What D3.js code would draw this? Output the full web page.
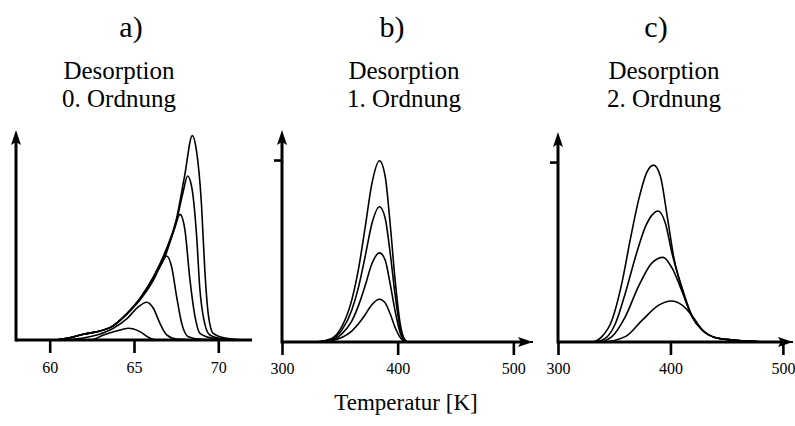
<!DOCTYPE html>
<html>
<head>
<meta charset="utf-8">
<script src="https://cdn.jsdelivr.net/npm/d3@7"></script>
<style>
  body { margin: 0; background: #fff; }
  svg { display: block; }
</style>
</head>
<body>
<svg id="chart" width="795" height="426"></svg>
<script>
var serif = "'Liberation Serif', 'DejaVu Serif', serif";

// panel a) - desorption 0. order, temperature [K] vs. rate (arb. units 0..10)
var ticksA = [60, 65, 70];
var curveA1 = [[58,0],[62.4,0],[63.2,0.24],[64.0,0.44],[64.66,0.56],[65.35,0.4],[65.85,0.13],[66.35,0],[72,0]];
var curveA2 = [[58,0],[60.5,0],[62.5,0.18],[63.77,0.56],[64.6,1.03],[65.2,1.54],[65.75,1.8],[66.15,1.51],[66.54,0.79],[66.94,0.24],[67.5,0.05],[69,0],[72,0]];
var curveA3 = [[58,0],[60.2,0],[62.0,0.27],[63.6,0.6],[64.6,1.25],[65.35,1.9],[66.15,2.85],[66.6,3.6],[66.94,4.0],[67.23,3.49],[67.53,2.06],[67.83,0.79],[68.22,0.16],[69,0.03],[70,0],[72,0]];
var curveA4 = [[58,0],[60.2,0],[62.0,0.27],[63.6,0.6],[64.6,1.27],[65.35,1.95],[66.15,2.95],[66.9,4.1],[67.4,5.3],[67.73,5.98],[68.02,5.24],[68.32,2.86],[68.62,1.11],[68.91,0.32],[69.7,0.08],[71,0],[72,0]];
var curveA5 = [[58,0],[60.2,0],[62.0,0.27],[63.6,0.6],[64.6,1.27],[65.35,1.97],[66.15,2.97],[66.9,4.25],[67.5,5.6],[67.9,7.0],[68.18,7.81],[68.42,7.3],[68.72,4.9],[68.9,2.5],[69.15,0.95],[69.5,0.24],[70.3,0.05],[71.5,0],[72,0]];
var curveA6 = [[58,0],[60.2,0],[62.0,0.27],[63.6,0.6],[64.6,1.27],[65.35,1.98],[66.15,3.0],[66.9,4.29],[67.5,5.7],[68.0,7.8],[68.46,9.73],[68.7,9.05],[69.0,6.5],[69.2,3.33],[69.4,1.27],[69.7,0.32],[70.5,0.08],[71.7,0],[72,0]];

// panel b) - desorption 1. order
var ticksB = [300, 400, 500];
var curveB1 = [[300,0],[328.6,0],[343,0.008],[351.7,0.025],[360.3,0.06],[366.1,0.1],[371.9,0.15],[377.7,0.205],[384.3,0.235],[389.2,0.215],[393.5,0.155],[397.8,0.08],[402.2,0.025],[406.5,0.003],[409.4,0],[517,0]];
var curveB2 = [[300,0],[328.6,0],[343,0.01],[351.7,0.045],[360.3,0.115],[366.1,0.2],[371.9,0.31],[377.7,0.43],[384.3,0.49],[389.2,0.45],[393.5,0.32],[397.8,0.17],[402.2,0.05],[406.5,0.005],[409.4,0],[517,0]];
var curveB3 = [[300,0],[328.6,0],[343,0.015],[351.7,0.065],[360.3,0.175],[366.1,0.3],[371.9,0.47],[377.7,0.65],[384.3,0.743],[389.2,0.68],[393.5,0.49],[397.8,0.26],[402.2,0.075],[406.5,0.01],[409.4,0],[517,0]];
var curveB4 = [[300,0],[328.6,0],[343,0.02],[351.7,0.084],[360.3,0.23],[366.1,0.4],[371.9,0.63],[377.7,0.87],[384.3,0.996],[389.2,0.91],[393.5,0.65],[397.8,0.34],[402.2,0.1],[406.5,0.01],[409.4,0],[517,0]];

// panel c) - desorption 2. order
var ticksC = [300, 400, 500];
var curveC1 = [[300,0],[339,0],[359.8,0.03],[374.7,0.12],[389.6,0.205],[400.9,0.228],[410.4,0.205],[419.4,0.145],[428.3,0.067],[440.2,0.024],[455.1,0.011],[475.9,0.003],[493.8,0],[509,0]];
var curveC2 = [[300,0],[336,0],[347.9,0.03],[359.8,0.14],[371.7,0.31],[383.6,0.44],[393.5,0.47],[401.5,0.41],[410.4,0.28],[419.4,0.14],[428.3,0.067],[440.2,0.024],[455.1,0.011],[475.9,0.003],[493.8,0],[509,0]];
var curveC3 = [[300,0],[333,0],[342,0.02],[350.9,0.1],[359.8,0.27],[368.75,0.47],[377.7,0.64],[383.6,0.705],[389.0,0.728],[395.5,0.66],[401.5,0.49],[410.4,0.3],[419.4,0.14],[428.3,0.067],[440.2,0.024],[455.1,0.011],[475.9,0.003],[493.8,0],[509,0]];
var curveC4 = [[300,0],[330.1,0],[339,0.03],[347.9,0.12],[356.9,0.33],[364.3,0.57],[371.7,0.79],[379.2,0.946],[385.1,0.983],[391.1,0.92],[397.1,0.7],[403,0.47],[410.4,0.29],[419.4,0.14],[428.3,0.067],[440.2,0.024],[455.1,0.011],[475.9,0.003],[493.8,0],[509,0]];

var letters = ["a)", "b)", "c)"];
var titles = ["Desorption", "Desorption", "Desorption"];
var orders = ["0. Ordnung", "1. Ordnung", "2. Ordnung"];
var xLabel = "Temperatur [K]";

var panels = [
  {curves: [curveA1, curveA2, curveA3, curveA4, curveA5, curveA6], ticks: ticksA, yTicks: [],
   xDom: [58, 72], xRange: [16, 252], yDom: [0, 10], yRange: [340, 130], xArrow: false,
   letterX: 131, titleX: 119},
  {curves: [curveB1, curveB2, curveB3, curveB4], ticks: ticksB, yTicks: [1],
   xDom: [300, 517], xRange: [282, 533], yDom: [0, 1.165], yRange: [342, 130], xArrow: true,
   letterX: 392, titleX: 404},
  {curves: [curveC1, curveC2, curveC3, curveC4], ticks: ticksC, yTicks: [1],
   xDom: [300, 509], xRange: [558, 793], yDom: [0, 1.167], yRange: [342, 132], xArrow: true,
   letterX: 656, titleX: 664}
];

var svg = d3.select("#chart");

function label(x, y, size, txt) {
  svg.append("text")
    .attr("x", x).attr("y", y)
    .attr("text-anchor", "middle")
    .attr("fill", "#000")
    .style("font-family", serif)
    .style("font-size", size + "px")
    .text(txt);
}

panels.forEach(function(p, idx) {
  var x = d3.scaleLinear().domain(p.xDom).range(p.xRange),
    y = d3.scaleLinear().domain(p.yDom).range(p.yRange),
    x0 = p.xRange[0], y0 = p.yRange[0];

  var g = svg.append("g");

  // curves
  var line = d3.line()
    .x(function(d) { return x(d[0]); })
    .y(function(d) { return y(d[1]); })
    .curve(d3.curveMonotoneX);
  g.selectAll("path.curve")
    .data(p.curves).enter().append("path")
      .attr("class", "curve")
      .attr("fill", "none")
      .attr("stroke", "#000")
      .attr("stroke-width", 1.6)
      .attr("stroke-linejoin", "round")
      .attr("d", line);

  // x axis (ticks + labels)
  var xa = g.append("g")
    .attr("transform", "translate(0," + y0 + ")")
    .call(d3.axisBottom(x).tickValues(p.ticks).tickSize(13).tickPadding(idx ? 8 : 9).tickSizeOuter(0));
  xa.select(".domain").remove();
  xa.selectAll(".tick line").attr("stroke", "#000").attr("stroke-width", 2.6);
  xa.selectAll(".tick text")
    .style("font-family", serif)
    .style("font-size", "16px").attr("fill", "#000");

  // y axis tick
  var ya = g.append("g")
    .attr("transform", "translate(" + x0 + ",0)")
    .call(d3.axisLeft(y).tickValues(p.yTicks).tickSize(8).tickFormat(""));
  ya.select(".domain").remove();
  ya.selectAll(".tick line").attr("stroke", "#000").attr("stroke-width", 2.6);

  // axis lines
  var xEnd = p.xRange[1] - (p.xArrow ? 10 : 0),
    yTop = p.yRange[1];
  g.append("line")
    .attr("x1", x0).attr("y1", y0).attr("x2", xEnd).attr("y2", y0)
    .attr("stroke", "#000").attr("stroke-width", 3);
  g.append("line")
    .attr("x1", x0).attr("y1", y0 + 1.5).attr("x2", x0).attr("y2", yTop + 10)
    .attr("stroke", "#000").attr("stroke-width", 3);

  // arrow heads
  g.append("path")
    .attr("d", "M" + x0 + "," + yTop + " L" + (x0 - 5) + "," + (yTop + 15) +
      " L" + x0 + "," + (yTop + 12) + " L" + (x0 + 5) + "," + (yTop + 15) + " Z")
    .attr("fill", "#000");
  if (p.xArrow) {
    var xt = p.xRange[1];
    g.append("path")
      .attr("d", "M" + xt + "," + y0 + " L" + (xt - 15) + "," + (y0 - 5) +
        " L" + (xt - 12) + "," + y0 + " L" + (xt - 15) + "," + (y0 + 5) + " Z")
      .attr("fill", "#000");
  }

  // titles
  label(p.letterX, 37, 30, letters[idx]);
  label(p.titleX, 79, 25, titles[idx]);
  label(p.titleX, 107, 25, orders[idx]);
});

label(406, 410, 23, xLabel);
</script>
</body>
</html>
